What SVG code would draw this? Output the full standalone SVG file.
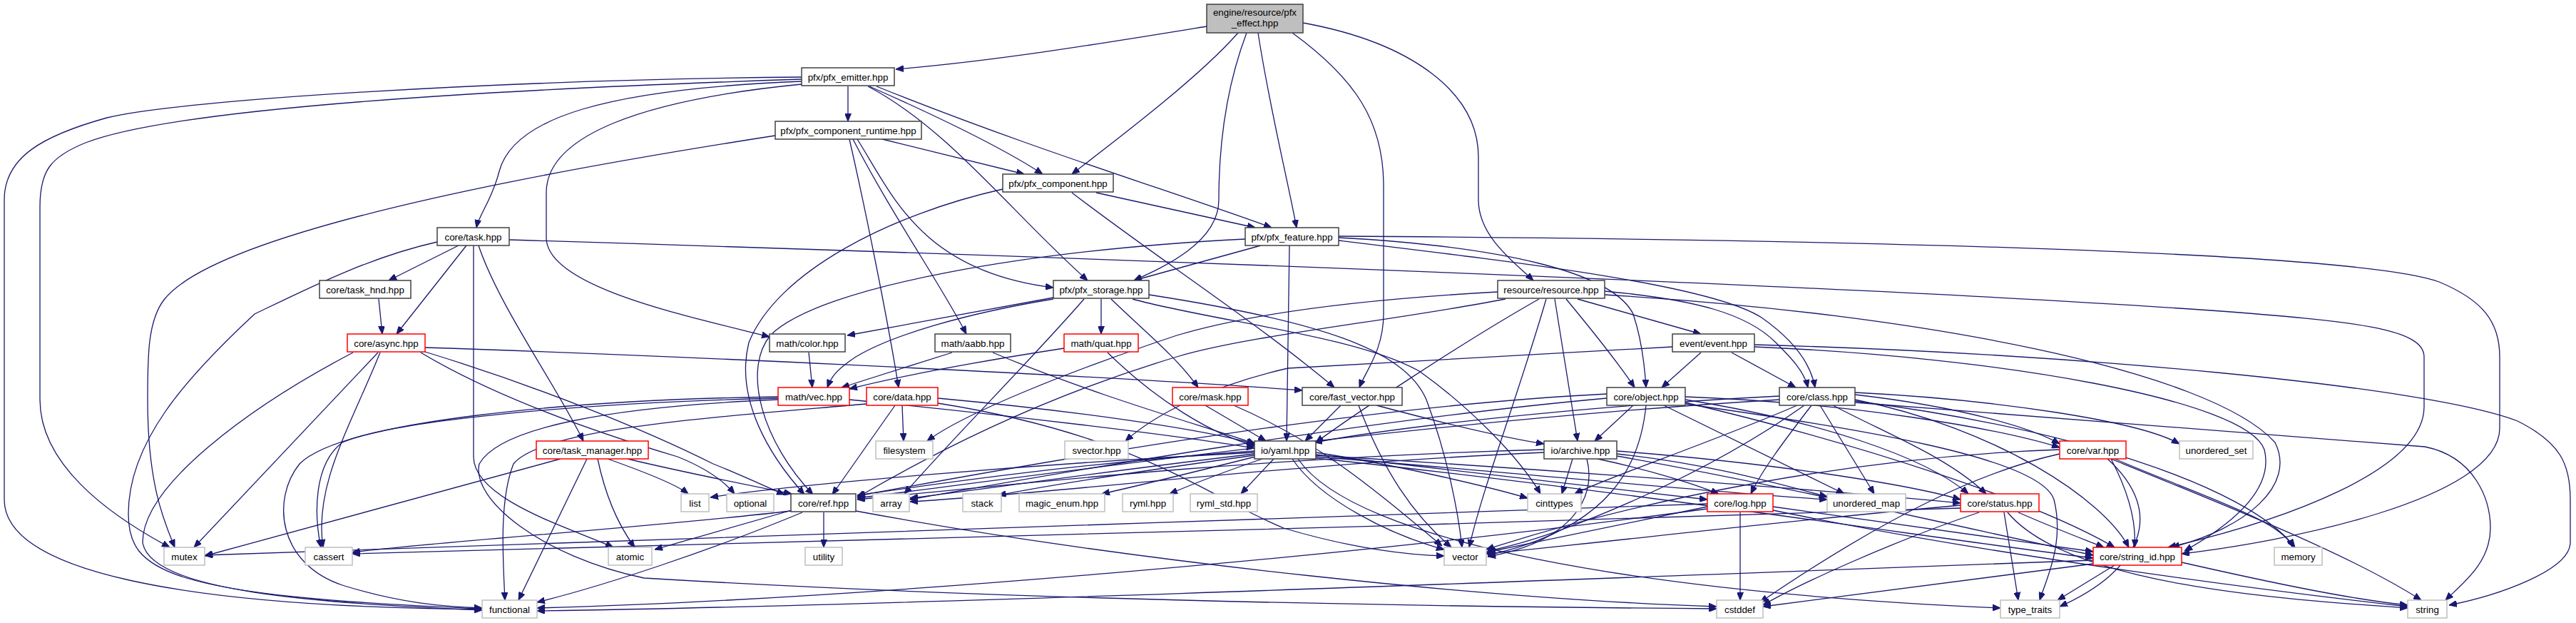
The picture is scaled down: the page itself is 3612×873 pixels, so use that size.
<svg xmlns="http://www.w3.org/2000/svg" width="3612" height="873" viewBox="0 0 3612 873">
<defs>
<marker id="ah" markerUnits="userSpaceOnUse" markerWidth="11" markerHeight="9" viewBox="0 0 11 9" refX="11" refY="4.5" orient="auto">
<path d="M0,0 L11,4.5 L0,9 z" fill="#191970" stroke="#191970" stroke-width="1"/>
</marker>
</defs>
<style>
.e path{fill:none;stroke:#191970;stroke-width:1.3;marker-end:url(#ah)}
.n rect{fill:#fff;stroke:#404040;stroke-width:1.5}
.g rect{fill:#fff;stroke:#bfbfbf;stroke-width:1.5}
.r rect{fill:#fff;stroke:#ff0000;stroke-width:1.5}
.root rect{fill:#bfbfbf;stroke:#404040;stroke-width:1.5}
text{font-family:"Liberation Sans",Arial,Helvetica,sans-serif;font-size:13.33px;text-anchor:middle;fill:#000}
</style>
<rect x="0" y="0" width="3612" height="873" fill="#fff"/>
<g id="edges" class="e">
<path d="M1692,37 C1550,60 1400,85 1256,97"/>
<path d="M1736,46 C1680,110 1560,200 1503,244"/>
<path d="M1748,46 C1720,120 1709,200 1709,280 C1709,340 1630,375 1590,393"/>
<path d="M1764,46 C1780,150 1805,250 1818,319"/>
<path d="M1812,46 C1900,110 1940,170 1940,260 L1940,440 C1940,490 1915,520 1906,543"/>
<path d="M1827,32 C1980,60 2073,130 2073,220 L2073,280 C2073,330 2120,365 2150,393"/>
<path d="M1189,121 L1189,170"/>
<path d="M1219,121 C1330,170 1410,210 1462,244"/>
<path d="M1217,121 C1330,180 1420,300 1525,393"/>
<path d="M1229,121 C1450,210 1650,270 1783,319"/>
<path d="M1124,114 C850,125 720,165 700,240 C690,280 672,300 668,319"/>
<path d="M1124,118 C900,140 766,190 766,270 L766,333 C766,400 950,440 1079,472"/>
<path d="M1124,111 C700,125 250,150 120,200 C70,220 56,240 56,290 L56,560 C56,650 150,720 238,767"/>
<path d="M1124,108 C700,112 250,140 150,165 C60,190 6,220 6,280 L6,700 C6,800 250,850 676,854"/>
<path d="M1237,195 L1436,244"/>
<path d="M1202,195 C1250,270 1290,380 1477,403"/>
<path d="M1196,195 C1250,300 1320,400 1355,468"/>
<path d="M1191,195 C1215,300 1245,450 1260,543"/>
<path d="M1087,190 C700,250 300,330 230,420 C207,450 207,500 207,560 C207,680 230,730 245,767"/>
<path d="M1537,270 L1760,319"/>
<path d="M1503,270 C1620,360 1760,450 1871,543"/>
<path d="M1406,265 C1250,300 1090,380 1050,480 C1030,560 1080,640 1128,693"/>
<path d="M1768,344 L1590,393"/>
<path d="M1746,335 C1450,350 1150,400 1080,470 C1040,520 1070,620 1140,693"/>
<path d="M1808,344 L1804,618"/>
<path d="M1877,333 C2100,345 2260,380 2290,440 C2300,470 2306,510 2308,543"/>
<path d="M1877,337 C2150,370 2400,400 2470,445 C2520,480 2540,515 2545,543"/>
<path d="M1877,331 C2500,335 3300,350 3420,395 C3480,420 3505,450 3505,500 L3505,600 C3505,700 3200,760 3059,776"/>
<path d="M643,344 L545,393"/>
<path d="M654,344 L556,468"/>
<path d="M671,344 C700,430 780,540 818,618"/>
<path d="M664,344 L664,640 C664,700 800,740 860,767"/>
<path d="M613,339 C520,360 440,400 357,440 C260,530 180,620 180,720 C180,800 230,835 676,853"/>
<path d="M714,336 C1500,360 2600,400 3100,435 C3300,450 3399,460 3399,500 L3399,570 C3399,660 3200,730 3040,767"/>
<path d="M531,419 L536,468"/>
<path d="M1477,417 L1188,470"/>
<path d="M1477,419 C1350,440 1250,470 1200,500 C1170,520 1165,530 1160,543"/>
<path d="M1544,419 L1544,468"/>
<path d="M1558,419 C1600,460 1650,500 1680,543"/>
<path d="M1520,419 C1450,500 1330,620 1268,692"/>
<path d="M1611,413 C1850,450 1970,490 2000,560 C2030,640 2045,720 2050,767"/>
<path d="M1588,419 C1700,450 1900,470 1990,520 C2060,570 2130,640 2160,692"/>
<path d="M2212,419 L2385,468"/>
<path d="M2196,419 C2230,460 2270,510 2292,543"/>
<path d="M2250,408 C2380,420 2450,440 2490,480 C2510,500 2530,520 2535,543"/>
<path d="M2100,409 C1900,420 1750,440 1650,470 C1500,520 1350,580 1300,618"/>
<path d="M2158,419 C2050,480 1900,580 1845,620"/>
<path d="M2168,419 C2130,550 2080,680 2060,767"/>
<path d="M2180,419 L2212,618"/>
<path d="M2111,419 C1950,450 1750,470 1650,500 C1450,560 1300,640 1202,697"/>
<path d="M2250,413 C2700,440 3100,520 3190,620 C3220,680 3150,740 3045,767"/>
<path d="M2385,494 L2330,543"/>
<path d="M2428,494 L2518,543"/>
<path d="M2460,486 C2800,500 3150,560 3175,630 C3190,690 3120,740 3063,772"/>
<path d="M2460,483 C2900,495 3400,540 3530,590 C3590,620 3604,650 3604,700 L3604,760 C3604,800 3500,835 3434,848"/>
<path d="M2345,486 C2100,500 1900,510 1806,516 C1700,540 1620,580 1578,618"/>
<path d="M2290,568 L2236,618"/>
<path d="M2308,568 C2300,650 2260,740 2086,778"/>
<path d="M2333,568 L2586,692"/>
<path d="M2363,556 C2600,565 2800,600 2888,627"/>
<path d="M2363,560 C2550,590 2700,640 2760,692"/>
<path d="M2363,564 C2600,620 2850,700 2965,767"/>
<path d="M2363,566 C2600,600 2860,640 2880,700 C2895,760 2870,810 2860,841"/>
<path d="M2253,552 C1900,570 1500,640 1202,695"/>
<path d="M2253,558 C1900,590 1500,660 1276,700"/>
<path d="M2520,568 C2400,620 2250,670 2208,692"/>
<path d="M2530,568 C2400,660 2200,750 2086,772"/>
<path d="M2540,568 C2500,620 2470,660 2455,692"/>
<path d="M2552,568 L2628,692"/>
<path d="M2570,568 C2650,610 2730,640 2785,692"/>
<path d="M2601,553 C2750,570 2850,600 2888,622"/>
<path d="M2601,550 C2800,560 3000,590 3056,622"/>
<path d="M2601,560 C2800,600 2950,700 2985,767"/>
<path d="M2601,562 C2900,600 3150,680 3218,767"/>
<path d="M2601,564 C2800,580 3200,610 3400,626 C3470,640 3492,700 3492,740 C3492,790 3450,820 3429,841"/>
<path d="M2495,555 C2200,570 1950,600 1843,620"/>
<path d="M2495,560 C2000,590 1500,660 1202,698"/>
<path d="M2205,643 L2190,692"/>
<path d="M2225,643 C2240,700 2200,760 2086,780"/>
<path d="M2240,643 C2320,660 2380,680 2410,692"/>
<path d="M2267,636 C2400,650 2500,680 2562,696"/>
<path d="M2267,632 C2500,650 2680,680 2749,700"/>
<path d="M2267,639 C2500,680 2800,750 2935,778"/>
<path d="M2165,630 C1800,640 1500,670 1202,700"/>
<path d="M2165,634 C1800,650 1500,690 1276,703"/>
<path d="M1786,643 L1740,692"/>
<path d="M1770,643 C1720,660 1680,675 1640,692"/>
<path d="M1760,640 C1680,660 1600,680 1545,692"/>
<path d="M1759,638 C1600,660 1470,680 1400,694"/>
<path d="M1759,636 C1550,660 1350,690 1276,698"/>
<path d="M1759,632 C1500,650 1300,680 1202,694"/>
<path d="M1759,634 C1450,650 1100,680 996,697"/>
<path d="M1812,643 C1850,700 1950,750 2025,770"/>
<path d="M1845,634 C1950,650 2080,680 2142,698"/>
<path d="M1845,637 C2050,660 2300,690 2394,700"/>
<path d="M1845,640 C2100,660 2400,690 2562,700"/>
<path d="M1845,638 C2200,660 2600,690 2749,705"/>
<path d="M1845,642 C2300,690 2750,760 2935,782"/>
<path d="M1820,643 C1900,760 2300,830 2805,852"/>
<path d="M1191,560 C1400,580 1650,610 1759,628"/>
<path d="M1091,556 C800,560 480,590 420,650 C380,700 390,790 480,820 C560,845 620,850 676,852"/>
<path d="M1091,558 C800,565 550,590 480,620 C440,650 440,720 450,767"/>
<path d="M1091,560 C850,570 700,600 672,650 C660,700 760,780 903,810 C1400,840 2000,850 2407,853"/>
<path d="M1215,566 C1000,585 760,600 720,650 C700,700 705,780 708,841"/>
<path d="M1255,568 L1167,693"/>
<path d="M1265,568 L1267,618"/>
<path d="M1315,558 C1500,575 1680,600 1759,622"/>
<path d="M1315,565 C1600,610 1700,700 1800,740 C1900,770 1980,778 2025,779"/>
<path d="M1134,494 L1139,543"/>
<path d="M1335,494 L1180,543"/>
<path d="M1392,494 C1550,560 1700,600 1760,622"/>
<path d="M1492,488 C1350,510 1250,530 1191,545"/>
<path d="M1553,494 C1620,560 1700,610 1762,625"/>
<path d="M1690,568 L1775,618"/>
<path d="M1730,568 C1850,620 1920,680 2022,765"/>
<path d="M1880,568 L1830,618"/>
<path d="M1905,568 C1940,660 1980,720 2035,767"/>
<path d="M1930,568 C2050,600 2120,615 2165,622"/>
<path d="M786,643 L287,779"/>
<path d="M823,643 L727,841"/>
<path d="M838,643 C850,700 870,740 890,767"/>
<path d="M852,643 C900,660 950,680 965,692"/>
<path d="M880,643 C950,660 1050,680 1110,692"/>
<path d="M530,494 L272,767"/>
<path d="M533,494 C490,600 440,680 453,767"/>
<path d="M596,487 C1000,500 1600,530 1826,547"/>
<path d="M495,494 C350,570 200,680 200,760 C210,830 450,845 676,855"/>
<path d="M596,493 C750,540 900,600 1000,650 C1050,670 1080,685 1100,693"/>
<path d="M590,494 C700,560 850,610 950,640 C1000,660 1020,680 1030,692"/>
<path d="M1155,718 L1155,767"/>
<path d="M1110,715 L918,770"/>
<path d="M1125,718 C1000,770 850,820 753,844"/>
<path d="M1109,716 C900,740 600,760 494,774"/>
<path d="M1200,716 C1600,790 2100,840 2407,850"/>
<path d="M2440,718 L2440,841"/>
<path d="M2394,710 C2250,740 2150,760 2084,774"/>
<path d="M2394,713 C1900,780 1200,840 753,852"/>
<path d="M2394,706 C1700,730 800,760 287,778"/>
<path d="M2486,710 C2700,740 2850,760 2935,773"/>
<path d="M2486,715 C2800,780 3200,830 3376,850"/>
<path d="M2830,718 C2880,740 2920,755 2950,767"/>
<path d="M2810,718 L2830,841"/>
<path d="M2815,718 C2900,820 3200,840 3376,852"/>
<path d="M2749,708 C2500,730 2250,760 2084,776"/>
<path d="M2775,718 C2650,760 2520,820 2472,848"/>
<path d="M2749,712 C2000,740 900,760 494,776"/>
<path d="M2965,792 L2885,841"/>
<path d="M3059,788 C3200,820 3300,840 3376,848"/>
<path d="M2935,790 C2700,820 2550,840 2472,850"/>
<path d="M2935,785 C2000,820 1200,850 753,856"/>
<path d="M2960,643 C2990,700 2995,740 2993,767"/>
<path d="M2965,643 C3100,700 3200,730 3215,767"/>
<path d="M2960,643 C3150,720 3300,780 3395,841"/>
<path d="M2955,643 C3040,720 3000,800 2888,850"/>
<path d="M2888,636 C2780,660 2650,720 2468,844"/>
<path d="M2888,630 C2600,640 2300,700 2084,770"/>
</g>
<g id="node-effect" class="root"><rect x="1692" y="6" width="135" height="40"/><text x="1759.5" y="21.5">engine/resource/pfx</text><text x="1759.5" y="37">_effect.hpp</text></g>
<g id="node-emitter" class="n"><rect x="1124" y="95" width="130" height="25"/><text x="1189" y="112.5">pfx/pfx_emitter.hpp</text></g>
<g id="node-runtime" class="n"><rect x="1087" y="170" width="205" height="25"/><text x="1189.5" y="187.5">pfx/pfx_component_runtime.hpp</text></g>
<g id="node-component" class="n"><rect x="1406" y="244" width="155" height="25"/><text x="1483.5" y="261.5">pfx/pfx_component.hpp</text></g>
<g id="node-task" class="n"><rect x="613" y="319" width="101" height="25"/><text x="663.5" y="336.5">core/task.hpp</text></g>
<g id="node-feature" class="n"><rect x="1746" y="319" width="131" height="25"/><text x="1811.5" y="336.5">pfx/pfx_feature.hpp</text></g>
<g id="node-hnd" class="n"><rect x="448" y="393" width="128" height="25"/><text x="512" y="410.5">core/task_hnd.hpp</text></g>
<g id="node-storage" class="n"><rect x="1477" y="393" width="134" height="25"/><text x="1544" y="410.5">pfx/pfx_storage.hpp</text></g>
<g id="node-resource" class="n"><rect x="2100" y="393" width="150" height="25"/><text x="2175" y="410.5">resource/resource.hpp</text></g>
<g id="node-async" class="r"><rect x="487" y="468" width="109" height="25"/><text x="541.5" y="485.5">core/async.hpp</text></g>
<g id="node-color" class="n"><rect x="1079" y="468" width="106" height="25"/><text x="1132" y="485.5">math/color.hpp</text></g>
<g id="node-aabb" class="n"><rect x="1311" y="468" width="106" height="25"/><text x="1364" y="485.5">math/aabb.hpp</text></g>
<g id="node-quat" class="r"><rect x="1492" y="468" width="104" height="25"/><text x="1544" y="485.5">math/quat.hpp</text></g>
<g id="node-event" class="n"><rect x="2345" y="468" width="115" height="25"/><text x="2402.5" y="485.5">event/event.hpp</text></g>
<g id="node-vec" class="r"><rect x="1091" y="543" width="100" height="25"/><text x="1141" y="560.5">math/vec.hpp</text></g>
<g id="node-data" class="r"><rect x="1215" y="543" width="100" height="25"/><text x="1265" y="560.5">core/data.hpp</text></g>
<g id="node-mask" class="r"><rect x="1644" y="543" width="106" height="25"/><text x="1697" y="560.5">core/mask.hpp</text></g>
<g id="node-fast_vector" class="n"><rect x="1826" y="543" width="140" height="25"/><text x="1896" y="560.5">core/fast_vector.hpp</text></g>
<g id="node-object" class="n"><rect x="2253" y="543" width="110" height="25"/><text x="2308" y="560.5">core/object.hpp</text></g>
<g id="node-class" class="n"><rect x="2495" y="543" width="106" height="25"/><text x="2548" y="560.5">core/class.hpp</text></g>
<g id="node-task_manager" class="r"><rect x="752" y="618" width="157" height="25"/><text x="830.5" y="635.5">core/task_manager.hpp</text></g>
<g id="node-filesystem" class="g"><rect x="1228" y="618" width="80" height="25"/><text x="1268" y="635.5">filesystem</text></g>
<g id="node-svector" class="g"><rect x="1493" y="618" width="89" height="25"/><text x="1537.5" y="635.5">svector.hpp</text></g>
<g id="node-yaml" class="n"><rect x="1759" y="618" width="86" height="25"/><text x="1802" y="635.5">io/yaml.hpp</text></g>
<g id="node-archive" class="n"><rect x="2165" y="618" width="102" height="25"/><text x="2216" y="635.5">io/archive.hpp</text></g>
<g id="node-var" class="r"><rect x="2888" y="618" width="93" height="25"/><text x="2934.5" y="635.5">core/var.hpp</text></g>
<g id="node-unordered_set" class="g"><rect x="3056" y="618" width="103" height="25"/><text x="3107.5" y="635.5">unordered_set</text></g>
<g id="node-list" class="g"><rect x="955" y="692" width="39" height="25"/><text x="974.5" y="709.5">list</text></g>
<g id="node-optional" class="g"><rect x="1019" y="692" width="66" height="25"/><text x="1052" y="709.5">optional</text></g>
<g id="node-ref" class="n"><rect x="1109" y="692" width="91" height="25"/><text x="1154.5" y="709.5">core/ref.hpp</text></g>
<g id="node-array" class="g"><rect x="1224" y="692" width="51" height="25"/><text x="1249.5" y="709.5">array</text></g>
<g id="node-stack" class="g"><rect x="1350" y="692" width="54" height="25"/><text x="1377" y="709.5">stack</text></g>
<g id="node-magic_enum" class="g"><rect x="1429" y="692" width="120" height="25"/><text x="1489" y="709.5">magic_enum.hpp</text></g>
<g id="node-ryml" class="g"><rect x="1574" y="692" width="71" height="25"/><text x="1609.5" y="709.5">ryml.hpp</text></g>
<g id="node-ryml_std" class="g"><rect x="1669" y="692" width="94" height="25"/><text x="1716" y="709.5">ryml_std.hpp</text></g>
<g id="node-cinttypes" class="g"><rect x="2142" y="692" width="75" height="25"/><text x="2179.5" y="709.5">cinttypes</text></g>
<g id="node-log" class="r"><rect x="2394" y="692" width="92" height="25"/><text x="2440" y="709.5">core/log.hpp</text></g>
<g id="node-unordered_map" class="g"><rect x="2562" y="692" width="110" height="25"/><text x="2617" y="709.5">unordered_map</text></g>
<g id="node-status" class="r"><rect x="2749" y="692" width="110" height="25"/><text x="2804" y="709.5">core/status.hpp</text></g>
<g id="node-mutex" class="g"><rect x="230" y="767" width="57" height="25"/><text x="258.5" y="784.5">mutex</text></g>
<g id="node-cassert" class="g"><rect x="428" y="767" width="66" height="25"/><text x="461" y="784.5">cassert</text></g>
<g id="node-atomic" class="g"><rect x="853" y="767" width="61" height="25"/><text x="883.5" y="784.5">atomic</text></g>
<g id="node-utility" class="g"><rect x="1129" y="767" width="52" height="25"/><text x="1155" y="784.5">utility</text></g>
<g id="node-vector" class="g"><rect x="2025" y="767" width="59" height="25"/><text x="2054.5" y="784.5">vector</text></g>
<g id="node-string_id" class="r"><rect x="2935" y="767" width="124" height="25"/><text x="2997" y="784.5">core/string_id.hpp</text></g>
<g id="node-memory" class="g"><rect x="3189" y="767" width="67" height="25"/><text x="3222.5" y="784.5">memory</text></g>
<g id="node-functional" class="g"><rect x="676" y="841" width="77" height="25"/><text x="714.5" y="858.5">functional</text></g>
<g id="node-cstddef" class="g"><rect x="2407" y="841" width="65" height="25"/><text x="2439.5" y="858.5">cstddef</text></g>
<g id="node-type_traits" class="g"><rect x="2805" y="841" width="83" height="25"/><text x="2846.5" y="858.5">type_traits</text></g>
<g id="node-string" class="g"><rect x="3376" y="841" width="55" height="25"/><text x="3403.5" y="858.5">string</text></g>
</svg>
